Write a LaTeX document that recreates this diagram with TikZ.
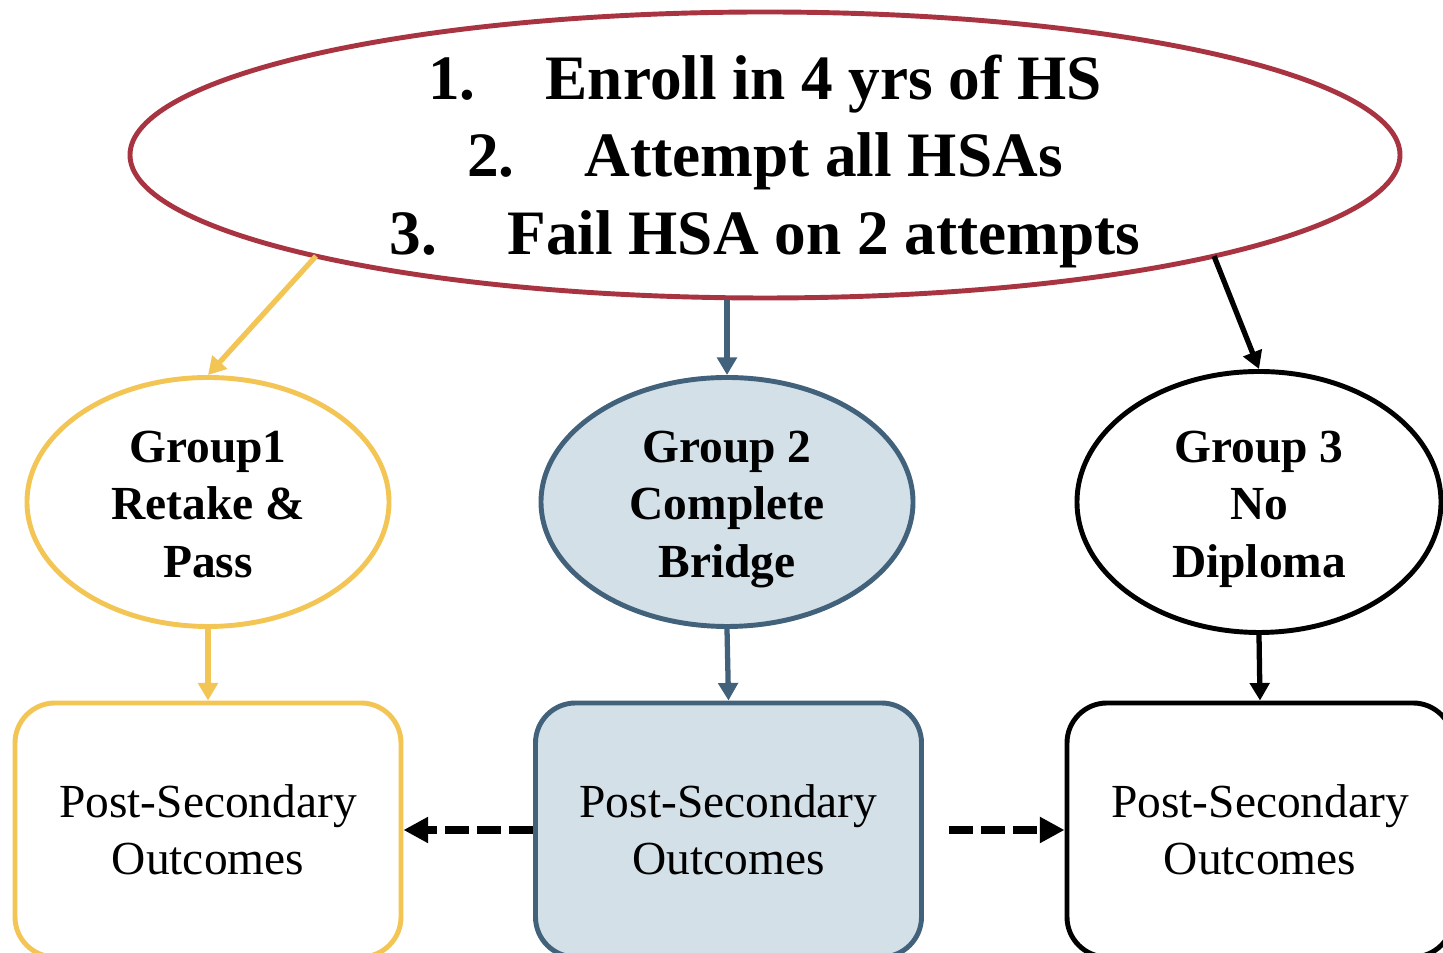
\documentclass[tikz,border=0pt]{standalone}
\usepackage{fontspec}
\setmainfont{Liberation Serif}
\usetikzlibrary{shapes.geometric,arrows.meta,calc}

\definecolor{topred}{HTML}{A93441}
\definecolor{gold}{HTML}{F2C555}
\definecolor{slate}{HTML}{42617B}
\definecolor{slatefill}{HTML}{D3E0E8}

\begin{document}
\begin{tikzpicture}
  \tikzset{oval/.style = {ellipse, line width=1.4pt, inner sep=0pt}}
  \tikzset{ovaltext/.style = {inner sep=0pt, align=center,
      font=\fontsize{13.5}{16.3}\selectfont\bfseries}}
  \tikzset{outcome/.style = {rectangle, rounded corners=0.4cm, line width=1.4pt,
      minimum width=3.86cm, minimum height=2.54cm, align=center,
      font=\fontsize{13.5}{16.3}\selectfont}}
  \tikzset{link/.style = {line width=1.5pt, -{Triangle[length=5pt,width=5.5pt]}}}
  \tikzset{spill/.style = {line width=2pt, dash pattern=on 6.8pt off 2.3pt,
      -{Triangle[length=7pt,width=7pt]}}}

\useasboundingbox (0,0) rectangle (14.43,9.53);

\node[oval, draw=topred, minimum width=12.7cm, minimum height=2.86cm] (top) at (7.65,7.98) {};
\node[ovaltext, font=\fontsize{18}{22}\selectfont\bfseries] (toptext) at ([yshift=-0.065cm]top.center)
  {\strut 1.\hspace{0.7cm}Enroll in 4 yrs of HS\\
   2.\hspace{0.7cm}Attempt all HSAs\\
   3.\hspace{0.7cm}Fail HSA on 2 attempts\strut};

\node[oval, draw=gold, minimum width=3.62cm, minimum height=2.49cm] (g1) at (2.08,4.51) {};
\node[oval, draw=slate, fill=slatefill, minimum width=3.72cm, minimum height=2.49cm] (g2) at (7.27,4.51) {};
\node[oval, draw=black, minimum width=3.64cm, minimum height=2.61cm] (g3) at (12.59,4.51) {};

\node[ovaltext] (g1text) at ([yshift=-0.065cm]g1.center) {\strut Group1\\Retake \&\\Pass\strut};
\node[ovaltext] (g2text) at ([yshift=-0.065cm]g2.center) {\strut Group 2\\Complete\\Bridge\strut};
\node[ovaltext] (g3text) at ([yshift=-0.065cm]g3.center) {\strut Group 3\\No\\Diploma\strut};

\node[outcome, draw=gold] (b1) at (2.08,1.23) {Post-Secondary\\Outcomes};
\node[outcome, draw=slate, fill=slatefill] (b2) at (7.285,1.23) {Post-Secondary\\Outcomes};
\node[outcome, draw=black] (b3) at (12.60,1.23) {Post-Secondary\\Outcomes};

\coordinate (leftfoot) at ($(top.center)+(225:6.35cm and 1.43cm)$);
\coordinate (midfoot) at (top.south -| g2.north);
\coordinate (rightfoot) at ($(top.center)+(-45:6.35cm and 1.43cm)$);

  % from the criteria to the groups
  \path (leftfoot) edge[link, draw=gold, gold] (g1.north);
  \path (midfoot) edge[link, draw=slate, slate] (g2.north);
  \path (rightfoot) edge[link, draw=black] (g3.north);

  % groups to outcomes
  \path (g1.south) edge[link, draw=gold, gold] (b1.north);
  \path (g2.south) edge[link, draw=slate, slate] (b2.north);
  \path (g3.south) edge[link, draw=black] (b3.north);

  % comparisons
  \path (b2.west) edge[spill] (b1.east);
  \path ([xshift=0.25cm]b2.east) edge[spill] (b3.west);

\end{tikzpicture}
\end{document}
